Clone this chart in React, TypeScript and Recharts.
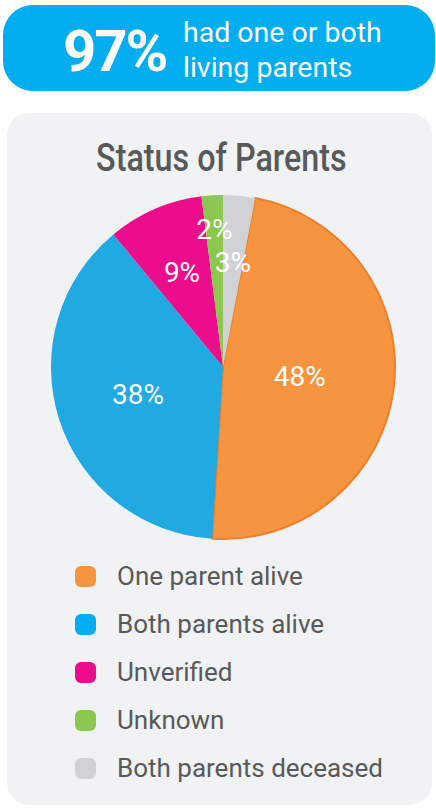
import React from "react";
import { PieChart, Pie, Cell, Legend } from "recharts";

const categories = [
    "One parent alive",
    "Both parents alive",
    "Unverified",
    "Unknown",
    "Both parents deceased",
];
const shares = [48, 38, 9, 2, 3];
const sliceColors = ["#f7943f", "#21aae1", "#ec0d8c", "#8cc84f", "#d1d2d4"];
const legendColors = ["#f7943f", "#00aeef", "#ec0d8c", "#8cc84f", "#d1d2d4"];

// label distance from centre, as a share of the outer radius
const labelRadius = [0.45, 0.52, 0.6, 0.8, 0.61];

const data = categories.map((name, i) => ({
    name,
    value: shares[i],
    fill: sliceColors[i],
}));

const RAD = Math.PI / 180;

const renderLabel = (props: any) => {
    const { cx, cy, midAngle, outerRadius, index } = props;
    const r = outerRadius * labelRadius[index];
    const x = cx + r * Math.cos(-midAngle * RAD);
    const y = cy + r * Math.sin(-midAngle * RAD);
    return (
        <text
            x={x}
            y={y}
            fill="#fff"
            textAnchor="middle"
            dominantBaseline="central"
            style={{ fontFamily: "Roboto, sans-serif", fontSize: 28, fontWeight: 400 }}
        >
            {`${shares[index]}%`}
        </text>
    );
};

const LegendList = () => (
    <div style={{ fontFamily: "Roboto, sans-serif" }}>
        {categories.map((name, i) => (
            <div
                key={name}
                style={{ height: 48, display: "flex", alignItems: "center" }}
            >
                <span
                    style={{
                        width: 21,
                        height: 21,
                        borderRadius: 6,
                        background: legendColors[i],
                        marginLeft: 75,
                        marginRight: 21,
                    }}
                />
                <span style={{ fontSize: 26, color: "#58595b" }}>{name}</span>
            </div>
        ))}
    </div>
);

const App: React.FC = () => {
    return (
        <div
            style={{
                position: "fixed",
                top: 0,
                left: 0,
                width: 436,
                height: 810,
                background: "#fff",
                overflow: "hidden",
            }}
        >
            {/* header banner */}
            <div
                style={{
                    position: "absolute",
                    left: 3,
                    top: 5,
                    width: 432,
                    height: 86,
                    borderRadius: 30,
                    background: "#00aeef",
                    color: "#fff",
                    fontFamily: "Roboto, sans-serif",
                }}
            >
                <div
                    style={{
                        position: "absolute",
                        left: 60,
                        top: 6,
                        fontSize: 58,
                        fontWeight: 700,
                        letterSpacing: -2,
                        lineHeight: "80px",
                    }}
                >
                    97%
                </div>
                <div
                    style={{
                        position: "absolute",
                        left: 180,
                        top: 10,
                        fontSize: 28.5,
                        lineHeight: "35px",
                    }}
                >
                    had one or both
                    <br />
                    living parents
                </div>
            </div>

            {/* card */}
            <div
                style={{
                    position: "absolute",
                    left: 7,
                    top: 113,
                    width: 425,
                    height: 692,
                    borderRadius: 22,
                    background: "#f1f2f4",
                }}
            />
            <div
                style={{
                    position: "absolute",
                    left: 0,
                    width: 442,
                    top: 136,
                    textAlign: "center",
                    lineHeight: "44px",
                }}
            >
                <span
                    style={{
                        display: "inline-block",
                        fontFamily: "Roboto, sans-serif",
                        fontWeight: 500,
                        fontSize: 38,
                        color: "#58595b",
                        transform: "scaleX(0.85)",
                    }}
                >
                    Status of Parents
                </span>
            </div>

            <div style={{ position: "absolute", left: 0, top: 0 }}>
                <PieChart
                    width={436}
                    height={810}
                    margin={{ top: 0, right: 0, bottom: 0, left: 0 }}
                >
                    <Pie
                        data={data}
                        dataKey="value"
                        nameKey="name"
                        cx={223}
                        cy={367}
                        outerRadius={172}
                        startAngle={79.2}
                        endAngle={-280.8}
                        label={renderLabel}
                        labelLine={false}
                        isAnimationActive={false}
                    >
                        {data.map((d, i) => (
                            <Cell
                                key={d.name}
                                fill={sliceColors[i]}
                                stroke={i === 0 ? "#ee7f2d" : "none"}
                                strokeWidth={i === 0 ? 2 : 0}
                            />
                        ))}
                    </Pie>
                    <Legend
                        layout="horizontal"
                        verticalAlign="bottom"
                        align="left"
                        content={<LegendList />}
                        wrapperStyle={{ top: 552, left: 0, width: 436, bottom: "auto" }}
                    />
                </PieChart>
            </div>
        </div>
    );
};

export default App;
